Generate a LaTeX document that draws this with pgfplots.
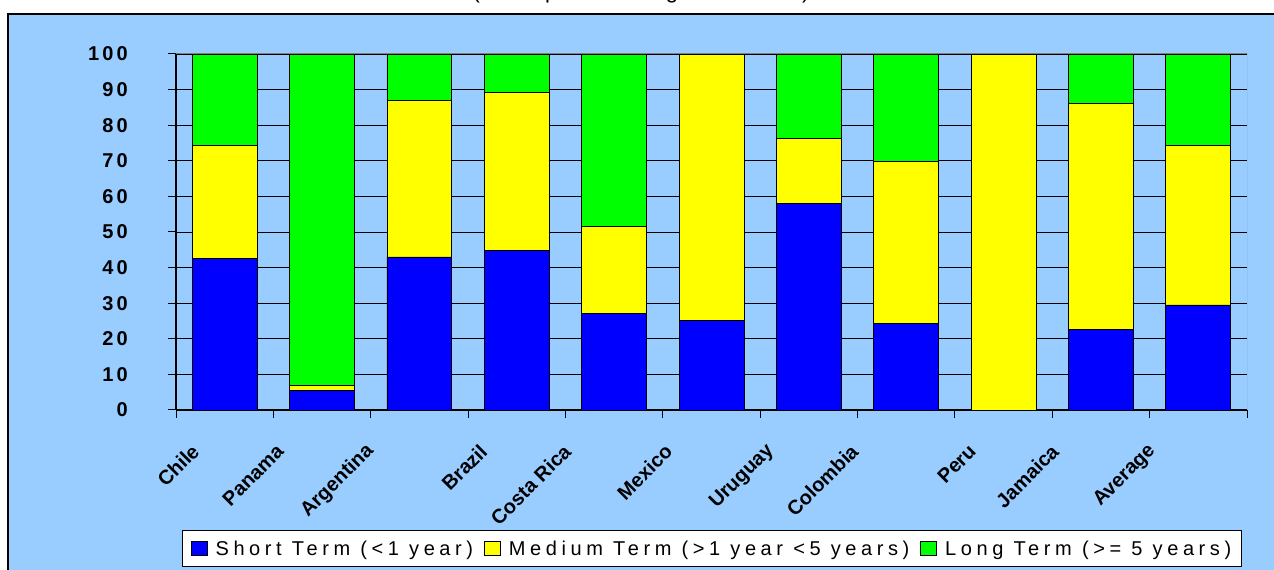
\documentclass[border=0pt]{standalone}
\usepackage{fontspec}
\setmainfont{Liberation Sans}
\newfontfamily\tickfont[LetterSpace=16]{Liberation Sans}
\newfontfamily\catfont{Liberation Sans}
\newfontfamily\legfont[LetterSpace=23]{Liberation Sans}
\newfontfamily\titfont[LetterSpace=20]{Liberation Sans}
\usepackage{pgfplots}
\pgfplotsset{compat=1.18}

\definecolor{bgblue}{HTML}{99CCFF}
\definecolor{shortc}{HTML}{0000FF}
\definecolor{medc}{HTML}{FFFF00}
\definecolor{longc}{HTML}{00FF00}
\definecolor{framegray}{HTML}{808080}

% stacked shares (percent): short, medium, long
\pgfplotstableread{
x short medium long
0  42.5 31.9 25.6
1   5.6  1.4 93.0
2  43.0 44.0 13.0
3  44.9 44.3 10.8
4  27.2 24.3 48.5
5  25.1 74.9  0.0
6  57.9 18.3 23.8
7  24.2 45.7 30.1
8   0.0 100.0 0.0
9  22.7 63.3 14.0
10 29.5 44.9 25.6
}\maturity

\begin{document}
\begin{tikzpicture}[x=1bp,y=1bp]
\useasboundingbox (0,0) rectangle (1274,570);
\fill[white] (0,0) rectangle (1274,570);
\filldraw[fill=bgblue, draw=black, line width=1.5bp] (8,-10) rectangle (1290,556);
\node[anchor=base, inner sep=0pt, font=\titfont\fontsize{22bp}{24bp}\selectfont]
  at (641,571.5) {(as a percentage of total)};
\begin{axis}[
    at={(176bp,160bp)}, anchor=south west,
    scale only axis,
    width=1071bp, height=356bp,
    xmin=-0.5, xmax=10.5,
    ymin=0, ymax=100,
    ybar stacked,
    bar width=0.667,
    axis x line*=bottom,
    axis y line*=left,
    axis line style={line width=1.2bp, black},
    tick align=outside,
    major tick length=8bp,
    tick style={black, line width=1bp},
    xtick={-0.5,0.5,...,10.5},
    xticklabels={},
    extra x ticks={-0.30,0.57,1.50,2.66,3.52,4.56,5.61,6.47,7.68,8.53,9.53},
    extra x tick labels={Chile,Panama,Argentina,Brazil,Costa Rica,Mexico,Uruguay,Colombia,Peru,Jamaica,Average},
    extra x tick style={
        major tick length=0pt,
        xticklabel style={yshift=-38bp, rotate=45, anchor=east, inner sep=0pt,
                          font=\catfont\bfseries\fontsize{20bp}{22bp}\selectfont}},
    ytick={0,10,...,100},
    yticklabels={0,10,20,30,40,50,60,70,80,90,100},
    yticklabel style={anchor=east, xshift=-40bp, inner sep=0pt,
                      font=\tickfont\bfseries\fontsize{20bp}{22bp}\selectfont},
    ymajorgrids,
    grid style={black, line width=0.9bp},
    legend columns=3,
    legend style={at={(0.5005,-0.39)}, anchor=center,
                  draw=black, fill=white, line width=0.8bp,
                  font=\legfont\fontsize{20bp}{22bp}\selectfont,
                  inner xsep=8bp, inner ysep=8bp,
                  /tikz/every even column/.append style={column sep=9bp}},
    legend cell align=left,
]
\draw[framegray, line width=1bp] (rel axis cs:0,1) -- (rel axis cs:1,1) -- (rel axis cs:1,0);
\addplot[fill=shortc, draw=black, line width=0.8bp,
  legend image code/.code={\draw[fill=shortc,draw=black,line width=0.8bp] (0bp,-7bp) rectangle (16bp,7bp); \path (22bp,0bp);}]
  table[x=x, y=short] {\maturity};
\addplot[fill=medc, draw=black, line width=0.8bp,
  legend image code/.code={\draw[fill=medc,draw=black,line width=0.8bp] (0bp,-7bp) rectangle (16bp,7bp); \path (22bp,0bp);}]
  table[x=x, y=medium] {\maturity};
\addplot[fill=longc, draw=black, line width=0.8bp,
  legend image code/.code={\draw[fill=longc,draw=black,line width=0.8bp] (0bp,-7bp) rectangle (16bp,7bp); \path (22bp,0bp);}]
  table[x=x, y=long] {\maturity};
\legend{Short Term (<1 year), Medium Term (>1 year <5 years), Long Term (>= 5 years)}
\end{axis}
\end{tikzpicture}
\end{document}
